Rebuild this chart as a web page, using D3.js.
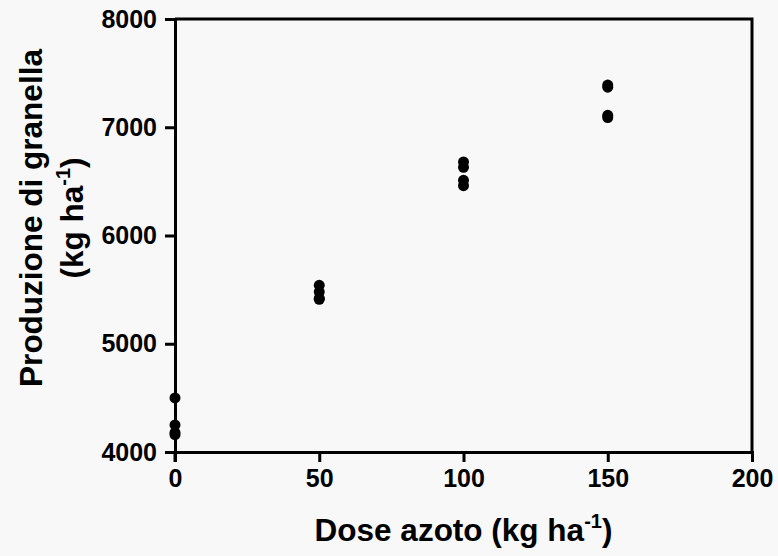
<!DOCTYPE html>
<meta charset="utf-8">
<style>
body { margin: 0; background: #f8f8f8; }
svg { display: block; font-family: "Liberation Sans", Arial, sans-serif; font-weight: bold; }
.axis path.domain, .axis line { stroke: #000; stroke-width: 3px; }
.axis text { font-size: 25px; font-weight: bold; fill: #000; font-family: "Liberation Sans", Arial, sans-serif; }
.title { font-size: 31.5px; fill: #000; }
</style>
<body>
<div id="chart"></div>
<script src="https://d3js.org/d3.v7.min.js"></script>
<script>
// dose of nitrogen (kg/ha) and grain yield (kg/ha), four replicates each
var dose = [0, 0, 0, 0, 50, 50, 50, 50, 100, 100, 100, 100, 150, 150, 150, 150];
var yieldVals = [4500, 4250, 4180, 4160, 5540, 5480, 5420, 5410, 6680, 6630, 6510, 6460, 7390, 7370, 7110, 7090];
var xTicks = [0, 50, 100, 150, 200];
var yTicks = [4000, 5000, 6000, 7000, 8000];

var margin = {top: 19, right: 26, bottom: 104, left: 175},
    width = 778 - margin.left - margin.right,
    height = 556 - margin.top - margin.bottom;

var svg = d3.select("#chart").append("svg")
    .attr("width", 778)
    .attr("height", 556);

var g = svg.append("g")
    .attr("transform", "translate(" + margin.left + "," + margin.top + ")");

var x = d3.scaleLinear().domain([0, 200]).range([0, width]);
var y = d3.scaleLinear().domain([4000, 8000]).range([height, 0]);

// frame (top and right)
g.append("path")
    .attr("d", "M0,0H" + width + "V" + height)
    .attr("fill", "none")
    .attr("stroke", "#000")
    .attr("stroke-width", 3);

g.append("g").attr("class", "x axis")
    .attr("transform", "translate(0," + height + ")")
    .call(d3.axisBottom(x).tickValues(xTicks).tickFormat(d3.format("d"))
      .tickSizeOuter(0).tickSize(10).tickPadding(7));

g.append("g").attr("class", "y axis")
    .call(d3.axisLeft(y).tickValues(yTicks).tickFormat(d3.format("d"))
      .tickSizeOuter(0).tickSize(10).tickPadding(8));

// tick at 0 on the y axis crosses downward a little
g.append("line")
    .attr("x1", x(0)).attr("x2", x(0))
    .attr("y1", height).attr("y2", height + 10)
    .attr("stroke", "#000").attr("stroke-width", 3);

g.selectAll(".dot")
    .data(dose.map(function(d, i) { return {x: d, y: yieldVals[i]}; }))
  .enter().append("circle")
    .attr("class", "dot")
    .attr("cx", function(d) { return x(d.x); })
    .attr("cy", function(d) { return y(d.y); })
    .attr("r", 5.5)
    .attr("fill", "#000");

// x title
var xt = svg.append("text").attr("class", "title")
    .attr("x", margin.left + width / 2)
    .attr("y", 541)
    .attr("text-anchor", "middle");
xt.append("tspan").text("Dose azoto (kg ha");
xt.append("tspan").attr("dy", -13).attr("font-size", "20px").text("-1");
xt.append("tspan").attr("dy", 13).text(")");

// y title
var yt = svg.append("g").attr("transform", "translate(42,218) rotate(-90)");
yt.append("text").attr("class", "title")
    .attr("text-anchor", "middle")
    .text("Produzione di granella");
var yt2 = yt.append("text").attr("class", "title")
    .attr("y", 41)
    .attr("text-anchor", "middle");
yt2.append("tspan").text("(kg ha");
yt2.append("tspan").attr("dy", -13).attr("font-size", "20px").text("-1");
yt2.append("tspan").attr("dy", 13).text(")");
</script>
</body>
